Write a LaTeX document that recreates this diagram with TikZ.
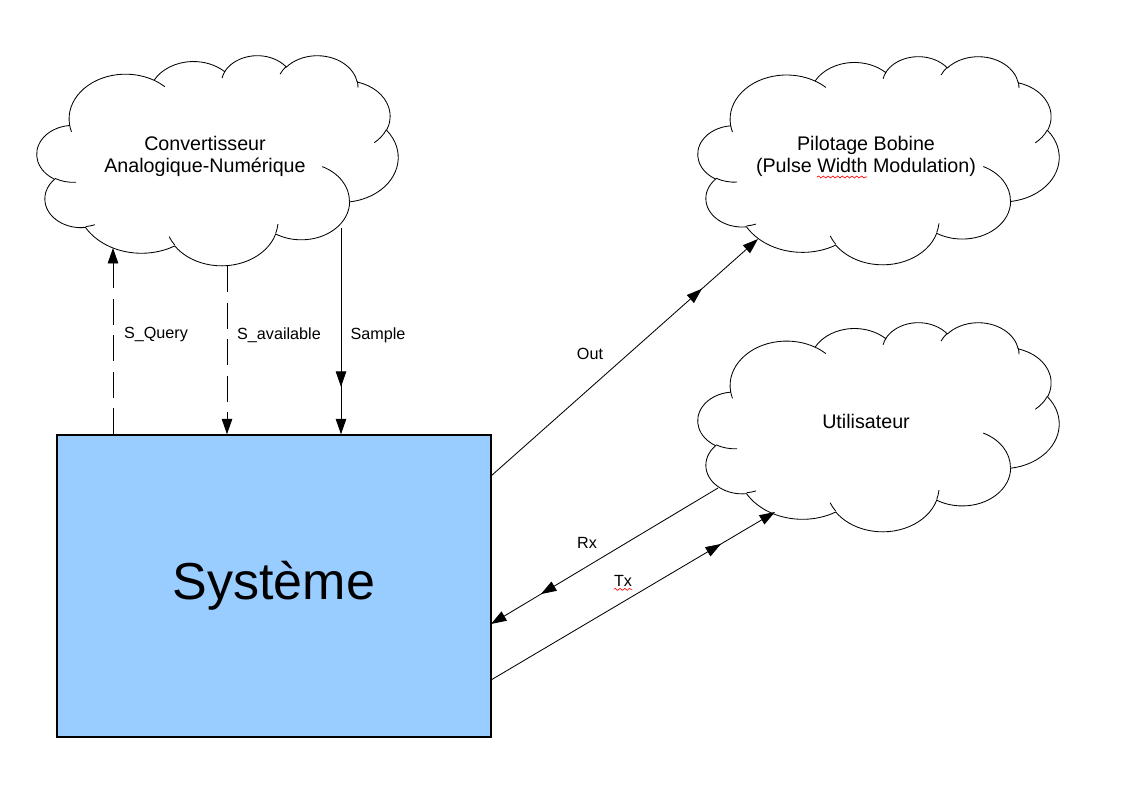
\documentclass[tikz,border=0pt]{standalone}
\usepackage{fontspec}
\setmainfont{Liberation Sans}
\usetikzlibrary{arrows.meta, decorations.markings, decorations.pathmorphing}

\definecolor{sysblue}{RGB}{153,204,255}

\tikzset{
  % one arc of the cloud, angles measured as seen on the page
  cloud arc/.code n args={4}{%
    \pgfmathsetmacro\clouda{atan2(#1*sin(#3),#2*cos(#3))}%
    \pgfmathsetmacro\cloudb{atan2(#1*sin(#3+#4),#2*cos(#3+#4))}%
    \pgfmathsetmacro\cloudd{mod(\cloudb-(\clouda)+720,360)}%
    \edef\cloudnext{\noexpand\tikzset{insert path={arc[x radius=#1, y radius=#2, start angle=\clouda, delta angle=\cloudd]}}}%
    \cloudnext},
  cloudline/.style={line width=0.6pt, fill=white},
  cloudtext/.style={font=\fontsize{14}{15.6}\selectfont, align=center},
  lbl/.style={font=\fontsize{11.5}{13}\selectfont, inner sep=0pt},
  tip/.style={-{Triangle[length=11pt, width=7.5pt]}},
  flow/.style={line width=0.6pt, tip},
  query/.style={flow, dash pattern=on 18.5pt off 7.5pt},
  midtip/.style={postaction={decorate, decoration={markings,
      mark=at position #1 with {\arrow{Triangle[length=11pt, width=7.5pt]}}}}},
  spellwave/.style={red, line width=0.45pt, decorate,
      decoration={snake, amplitude=0.7pt, segment length=3.4pt}}
}

\newcommand\cloudoutline{(3.900,14.370)
  [cloud arc={6.753}{9.190}{-190.4875}{123.7805}]
  [cloud arc={5.333}{7.267}{-144.1024}{89.9452}]
  [cloud arc={4.365}{5.945}{-145.8079}{99.7230}]
  [cloud arc={4.857}{6.595}{-130.9861}{117.2417}]
  [cloud arc={5.333}{7.273}{-78.7089}{109.0269}]
  [cloud arc={6.775}{9.220}{-46.2673}{130.2690}]
  [cloud arc={5.785}{7.867}{0.6250}{114.0333}]
  [cloud arc={6.752}{9.215}{22.4516}{115.1726}]
  [cloud arc={7.720}{10.543}{66.2426}{75.7110}]
  [cloud arc={4.360}{5.918}{-274.9421}{146.7356}]
  [cloud arc={4.345}{5.945}{-246.8285}{152.5189}] -- cycle}

\newcommand\cloudcreases{%
  (4.693,26.177) [cloud arc={4.345}{5.945}{86.7420}{26.4295}]
  (6.928,34.899) [cloud arc={4.360}{5.918}{73.6105}{11.4475}]
  (16.478,39.090) [cloud arc={6.752}{9.215}{137.6242}{14.0811}]
  (28.827,34.751) [cloud arc={6.752}{9.215}{6.4533}{15.9984}]
  (34.129,22.954) [cloud arc={5.785}{7.867}{-70.2924}{70.9174}]
  (41.798,15.354) [cloud arc={5.333}{7.273}{30.3180}{27.7515}]
  (38.324,5.426) [cloud arc={4.857}{6.595}{-13.7443}{14.8589}]
  (29.078,3.952) [cloud arc={4.857}{6.595}{-149.1815}{18.1954}]
  (22.141,4.720) [cloud arc={4.365}{5.945}{-163.4943}{17.6864}]
  (14.000,5.192) [cloud arc={6.753}{9.190}{-66.7070}{12.3194}]
  (4.127,15.789) [cloud arc={6.753}{9.190}{157.6544}{11.8582}]}

\newcommand\drawcloud[4]{%
  \begin{scope}[shift={(#1,#2)}, x=#3, y=#4]
    \path[cloudline, draw] \cloudoutline;
    \draw[line width=0.6pt] \cloudcreases;
  \end{scope}}

\begin{document}
\begin{tikzpicture}[x=0.025cm, y=-0.025cm]
    \useasboundingbox (0,0) rectangle (1123,794);

    % clouds
    \drawcloud{37}{55}{0.20891cm}{-0.12153cm}
    \drawcloud{698}{56}{0.20891cm}{-0.12037cm}
    \drawcloud{698}{322}{0.20891cm}{-0.12095cm}

    \node[cloudtext] (adc) at (205, 156) {Convertisseur\\Analogique-Numérique};
    \node[cloudtext] (pwm) at (866, 156) {Pilotage Bobine\\(Pulse Width Modulation)};
    \node[cloudtext] (usr) at (866, 421) {Utilisateur};
    \draw[spellwave] (817, 177) -- (867, 177);

    % system box
    \node[draw, fill=sysblue, line width=1pt, inner sep=0pt,
          minimum width=10.85cm, minimum height=7.55cm,
          font=\fontsize{37}{40}\selectfont] (sys) at (274, 586) {Système};

    % end points on the clouds and on the box
    \coordinate (adcq) at (113, 248);
    \coordinate (adca) at (227, 266);
    \coordinate (adcs) at (341, 228);
    \coordinate (pwmin) at (758, 239);
    \coordinate (usrrx) at (718, 488);
    \coordinate (usrtx) at (775, 512);
    \coordinate (sysout) at (491, 476);
    \coordinate (sysrx) at (491, 624);
    \coordinate (systx) at (491, 680);

    % connectors
    \draw[query] (adcq |- sys.north) -- (adcq);
    \draw[query] (adca) -- (adca |- sys.north);
    \draw[flow, midtip=0.77] (adcs) -- (adcs |- sys.north);
    \draw[flow, midtip=0.79] (sysout) -- (pwmin);
    \draw[flow, midtip=0.78] (usrrx) -- (sysrx);
    \draw[flow, midtip=0.81] (systx) -- (usrtx);

    % labels
    \node[lbl] (lquery) at (156, 335) {S\_Query};
    \node[lbl] (lavail) at (279, 335) {S\_available};
    \node[lbl] (lsample) at (378, 335) {Sample};
    \node[lbl] (lout) at (590, 354) {Out};
    \node[lbl] (lrx) at (587, 543) {Rx};
    \node[lbl] (ltx) at (623, 581) {Tx};
    \draw[spellwave] ([yshift=-2pt]ltx.base west) -- ([yshift=-2pt]ltx.base east);
\end{tikzpicture}
\end{document}
